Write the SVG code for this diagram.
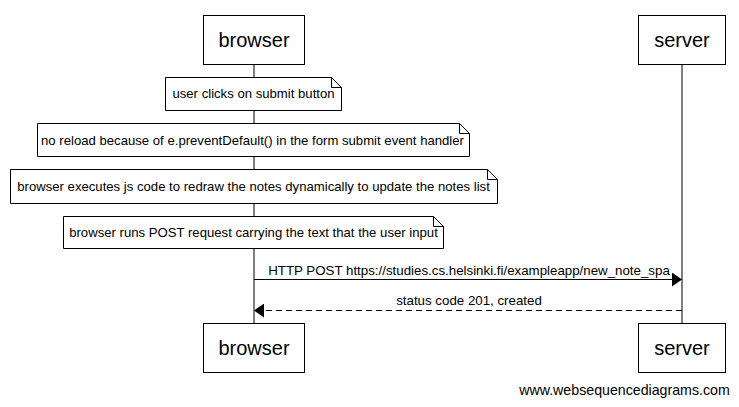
<svg xmlns="http://www.w3.org/2000/svg" width="739" height="407" viewBox="0 0 739 407">
<style>
text{font-family:"Liberation Sans",Arial,sans-serif;fill:#000}
.actor rect{fill:#fff;stroke:#000;stroke-width:1}
.actor text{font-size:20px;text-anchor:middle}
.note path{fill:#fff;stroke:#000;stroke-width:1}
.note text{font-size:13.15px;text-anchor:middle}
.life{stroke:#000;stroke-width:1;fill:none}
.msg{stroke:#000;stroke-width:1;fill:none}
.dash{stroke-dasharray:6,4}
.lbl{font-size:13.3px;text-anchor:middle}
.foot{font-size:14.2px;text-anchor:middle}
</style>
<defs>
<marker id="ah" viewBox="0 0 10 14" refX="10" refY="7" markerWidth="10" markerHeight="14" markerUnits="userSpaceOnUse" orient="auto">
<path d="M0,0 L10,7 L0,14 Z" fill="#000"/>
</marker>
</defs>
<g id="lifelines">
<line class="life" x1="254" y1="64" x2="254" y2="323"/>
<line class="life" x1="682" y1="64" x2="682" y2="323"/>
</g>
<g id="browser-top" class="actor"><rect x="203.5" y="15.5" width="101" height="49"/><text x="254" y="47">browser</text></g>
<g id="server-top" class="actor"><rect x="638.5" y="15.5" width="87" height="49"/><text x="682" y="47">server</text></g>
<g id="note1" class="note"><path d="M165.5,77.5 H331.5 L341.5,87.5 V110.5 H165.5 Z M331.5,77.5 V87.5 H341.5"/><text x="253.5" y="98">user clicks on submit button</text></g>
<g id="note2" class="note"><path d="M37.5,123.5 H459.5 L469.5,133.5 V156.5 H37.5 Z M459.5,123.5 V133.5 H469.5"/><text x="252.5" y="145">no reload because of e.preventDefault() in the form submit event handler</text></g>
<g id="note3" class="note"><path d="M10.5,169.5 H487.5 L497.5,179.5 V203.5 H10.5 Z M487.5,169.5 V179.5 H497.5"/><text x="253.5" y="191">browser executes js code to redraw the notes dynamically to update the notes list</text></g>
<g id="note4" class="note"><path d="M63.5,216.5 H433.5 L443.5,226.5 V248.5 H63.5 Z M433.5,216.5 V226.5 H443.5"/><text x="253.5" y="237">browser runs POST request carrying the text that the user input</text></g>
<g id="connectors">
<line class="msg" x1="254" y1="279.5" x2="682" y2="279.5" marker-end="url(#ah)"/>
<text class="lbl" x="469" y="275">HTTP POST https://studies.cs.helsinki.fi/exampleapp/new_note_spa</text>
<line class="msg dash" x1="682" y1="310.5" x2="254" y2="310.5" marker-end="url(#ah)"/>
<text class="lbl" x="469" y="305">status code 201, created</text>
</g>
<g id="browser-bottom" class="actor"><rect x="203.5" y="323.5" width="101" height="49"/><text x="254" y="355">browser</text></g>
<g id="server-bottom" class="actor"><rect x="638.5" y="323.5" width="87" height="49"/><text x="682" y="355">server</text></g>
<text class="foot" x="624.5" y="395">www.websequencediagrams.com</text>
</svg>
